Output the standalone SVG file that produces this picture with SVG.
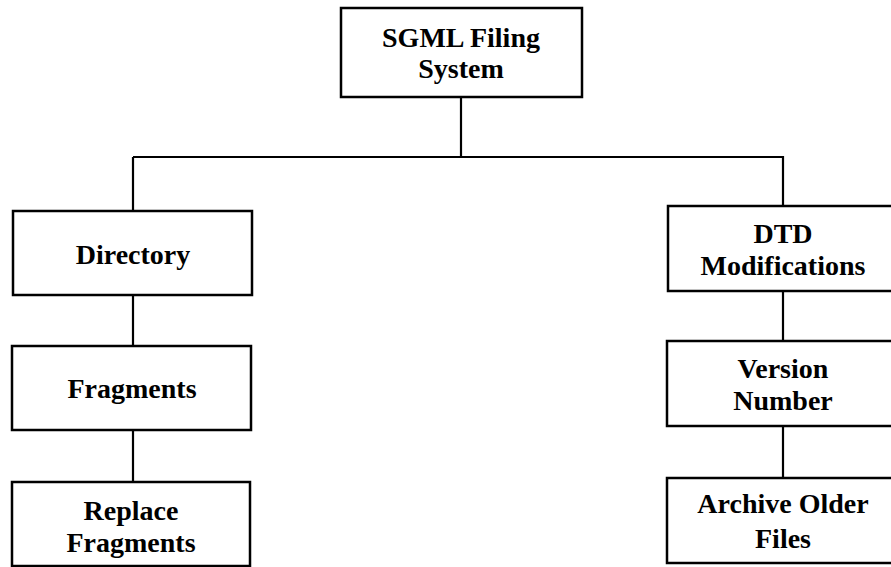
<svg xmlns="http://www.w3.org/2000/svg" width="891" height="567" viewBox="0 0 891 567">
<style>
.box{fill:#fff;stroke:#000;stroke-width:2.5}
.lbl{font-family:"Liberation Serif","Times New Roman",serif;font-weight:bold;font-size:28px;fill:#000;text-anchor:middle}
.conn{stroke:#000;stroke-width:2.2;fill:none}
</style>
<rect width="891" height="567" fill="#fff"/>
<g id="connectors">
<path class="conn" d="M461 97V156M133 157H783M133 157V211M783 156V206"/>
<path class="conn" d="M133 295V346M133 430V482"/>
<path class="conn" d="M783 291V341M783 426V478"/>
</g>
<g id="sgml">
<rect class="box" x="341" y="8" width="241" height="89"/>
<text class="lbl" x="461" y="47">SGML Filing</text>
<text class="lbl" x="461" y="78">System</text>
</g>
<g id="directory">
<rect class="box" x="13" y="211" width="239" height="84"/>
<text class="lbl" x="133" y="264">Directory</text>
</g>
<g id="fragments">
<rect class="box" x="12" y="346" width="239" height="84"/>
<text class="lbl" x="132" y="398">Fragments</text>
</g>
<g id="replace">
<rect class="box" x="12" y="482" width="238" height="84"/>
<text class="lbl" x="131" y="520">Replace</text>
<text class="lbl" x="131" y="552">Fragments</text>
</g>
<g id="dtd">
<rect class="box" x="668" y="206" width="230" height="85"/>
<text class="lbl" x="783" y="243">DTD</text>
<text class="lbl" x="783" y="275">Modifications</text>
</g>
<g id="version">
<rect class="box" x="667" y="341" width="231" height="85"/>
<text class="lbl" x="783" y="378">Version</text>
<text class="lbl" x="783" y="410">Number</text>
</g>
<g id="archive">
<rect class="box" x="667" y="478" width="231" height="85"/>
<text class="lbl" x="783" y="513">Archive Older</text>
<text class="lbl" x="783" y="548">Files</text>
</g>
</svg>
